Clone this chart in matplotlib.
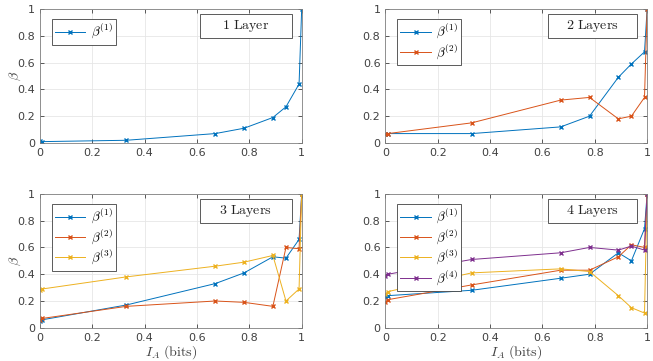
import numpy as np
import matplotlib.pyplot as plt
from matplotlib.ticker import FuncFormatter
from matplotlib.patches import Rectangle

# %%
# x values (I_A in bits)
ia = [0, 0.01, 0.33, 0.67, 0.78, 0.89, 0.94, 0.99, 1.0]

# 1 layer
l1_b1 = [0.015, 0.01, 0.02, 0.07, 0.11, 0.19, 0.27, 0.44, 1.0]

# 2 layers
l2_b1 = [0.07, 0.07, 0.07, 0.12, 0.20, 0.49, 0.59, 0.68, 1.0]
l2_b2 = [0.07, 0.07, 0.15, 0.32, 0.34, 0.18, 0.20, 0.34, 1.0]

# 3 layers
l3_b1 = [0.05, 0.06, 0.17, 0.33, 0.41, 0.53, 0.52, 0.66, 1.0]
l3_b2 = [0.06, 0.07, 0.16, 0.20, 0.19, 0.16, 0.60, 0.59, 1.0]
l3_b3 = [0.28, 0.29, 0.38, 0.46, 0.49, 0.54, 0.20, 0.29, 1.0]

# 4 layers
l4_b1 = [0.23, 0.24, 0.28, 0.37, 0.40, 0.56, 0.50, 0.74, 1.0]
l4_b2 = [0.19, 0.21, 0.32, 0.43, 0.43, 0.53, 0.62, 0.60, 1.0]
l4_b3 = [0.25, 0.27, 0.41, 0.44, 0.42, 0.24, 0.15, 0.11, 1.0]
l4_b4 = [0.39, 0.40, 0.51, 0.56, 0.60, 0.58, 0.61, 0.58, 1.0]

titles = ['1 Layer', '2 Layers', '3 Layers', '4 Layers']
series = [[l1_b1], [l2_b1, l2_b2], [l3_b1, l3_b2, l3_b3], [l4_b1, l4_b2, l4_b3, l4_b4]]
colors = ['#0072BD', '#D95319', '#EDB120', '#7E2F8E']

# %%
plt.rcParams['mathtext.fontset'] = 'cm'
plt.rcParams['font.size'] = 8

fig = plt.figure(figsize=(6.53, 3.61), dpi=100)
pos = [
    [0.061, 0.604, 0.401, 0.371],
    [0.590, 0.604, 0.401, 0.371],
    [0.061, 0.092, 0.401, 0.371],
    [0.590, 0.092, 0.401, 0.371],
]
box_x = [0.61, 0.622, 0.61, 0.622]

fmt = FuncFormatter(lambda v, p: f'{v:g}')
grey = '#404040'

for k in range(4):
    ax = fig.add_axes(pos[k])
    for i, ys in enumerate(series[k]):
        ax.plot(ia, ys, color=colors[i], marker='x', ms=3.5, lw=0.7,
                label=rf'$\beta^{{({i+1})}}$')
    ax.set_xlim(0, 1)
    ax.set_ylim(0, 1)
    ax.set_xticks(np.arange(0, 1.01, 0.2))
    ax.set_yticks(np.arange(0, 1.01, 0.2))
    ax.xaxis.set_major_formatter(fmt)
    ax.yaxis.set_major_formatter(fmt)
    ax.tick_params(direction='in', length=3, width=0.6, colors=grey,
                   labelsize=8, top=True, right=True)
    ax.grid(color='#e6e6e6', lw=0.6)
    ax.set_axisbelow(True)
    for s in ax.spines.values():
        s.set_color('#808080')
        s.set_linewidth(0.6)

    leg = ax.legend(loc='upper left', bbox_to_anchor=(0.045, 0.925), fontsize=9.5,
                    fancybox=False, edgecolor='#404040', framealpha=1,
                    handlelength=2.3, handletextpad=0.4, borderpad=0.25,
                    labelspacing=0.1, borderaxespad=0)
    leg.get_frame().set_linewidth(0.6)

    # label box in the top right
    bx = box_x[k]
    ax.add_patch(Rectangle((bx, 0.785), 0.962 - bx, 0.178, transform=ax.transAxes,
                           fc='white', ec='#404040', lw=0.6, zorder=5))
    ax.text(bx + (0.962 - bx) / 2, 0.874, r'$\mathrm{' + titles[k].replace(' ', r'\ ') + '}$',
            transform=ax.transAxes, ha='center', va='center',
            fontsize=10, color='#222222', zorder=6)

    if k in (0, 2):
        ax.set_ylabel(r'$\beta$', fontsize=10, color=grey)
        ax.yaxis.set_label_coords(-0.065, 0.5)
    if k in (2, 3):
        ax.set_xlabel(r'$I_A\ \mathrm{(bits)}$', fontsize=10, color=grey, labelpad=0.5)

fig.savefig('out.png', dpi=100)
